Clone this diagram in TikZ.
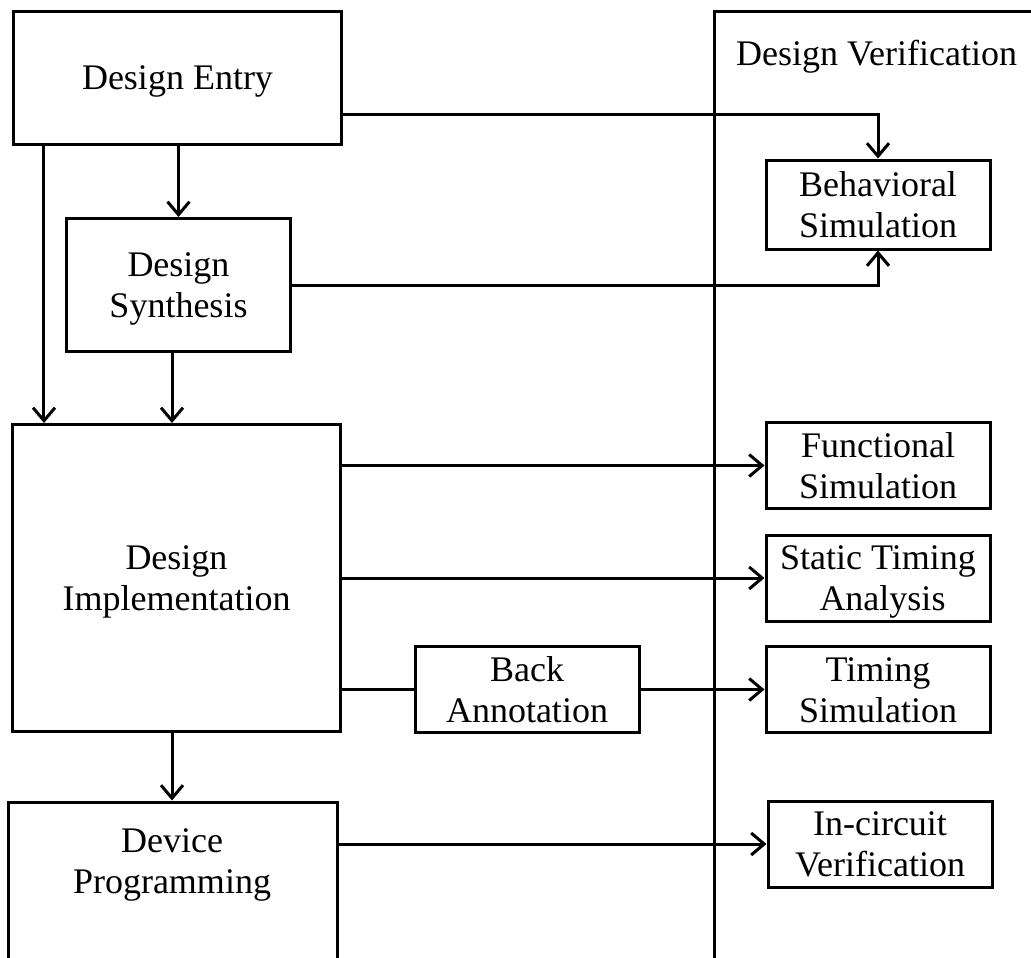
\documentclass[tikz,border=0pt]{standalone}
\usepackage{fontspec}
\setmainfont{Liberation Serif}
\usetikzlibrary{arrows.meta}
% strut with the ascent and descent of the serif face at 36bp
\newcommand\sline{\rule[-7.8bp]{0pt}{39.8bp}}
\begin{document}
\begin{tikzpicture}[x=1bp,y=-1bp,
  txt/.style={font=\fontsize{36bp}{41bp}\selectfont},
  box/.style={txt, draw, line width=3bp, align=center, inner sep=0pt},
  bigbox/.style={box, minimum width=328bp},
  sbox/.style={box, minimum width=224bp, minimum height=86bp},
  lbl/.style={txt, align=center, inner sep=0pt},
  link/.style={line width=3bp},
  flow/.style={link, -{Straight Barb[length=13bp,width=22bp]}}]
\useasboundingbox (0,0) rectangle (1031,958);

% verification panel (runs off the page on the right and bottom)
\draw[link] (714,1000) |- (1100,11);
\node[lbl, anchor=base] (vlabel) at (876.5,65) {Design Verification};

% design flow column
\node[bigbox, minimum height=133bp] (ent) at (177.5,77.5) {\sline Design Entry};
\node[box, minimum width=223bp, minimum height=133bp] (syn) at (178.5,285) {\sline Design\\\sline Synthesis};
\node[bigbox, minimum height=307bp] (impl) at (176.5,578) {\sline Design\\\sline Implementation};
\node[box, minimum width=328.5bp, minimum height=300bp, anchor=north] (dev) at (172.75,800.5) {};
\node[lbl] (devtext) at (172,861) {\sline Device\\\sline Programming};

% verification steps
\node[box, minimum width=224bp, minimum height=89bp] (beh) at (878,204.5) {\sline Behavioral\\\sline Simulation};
\node[sbox] (fun) at (878,465.5) {\sline Functional\\\sline Simulation};
\node[sbox] (sta) at (878,578) {\sline Static Timing\\\sline\hspace{9bp}Analysis};
\node[sbox] (tim) at (878,689.5) {\sline Timing\\\sline Simulation};
\node[sbox] (inc) at (880,844) {\sline In-circuit\\\sline Verification};
\node[sbox] (ban) at (527,689.5) {\sline Back\\\sline Annotation};

% connector start points
\coordinate (entout) at ([yshift=-36.5bp]ent.east);
\coordinate (entdown) at ([xshift=32bp]ent.south west);
\coordinate (syndown) at ([xshift=-6.5bp]syn.south);
\coordinate (impldown) at ([xshift=-4.5bp]impl.south);

% connectors
\draw[flow] (entout) -| (beh.north);
\draw[flow] (syn.east) -| (beh.south);
\draw[flow] (ent.south -| syn.north) -- (syn.north);
\draw[flow] (entdown) -- (entdown |- impl.north);
\draw[flow] (syndown) -- (syndown |- impl.north);
\draw[flow] (impldown) -- (impldown |- dev.north);
\draw[flow] (impl.east |- fun.west) -- (fun.west);
\draw[flow] (impl.east |- sta.west) -- (sta.west);
\draw[link] (impl.east |- ban.west) -- (ban.west);
\draw[flow] (ban.east) -- (tim.west);
\draw[flow] (dev.east |- inc.west) -- (inc.west);
\end{tikzpicture}
\end{document}
